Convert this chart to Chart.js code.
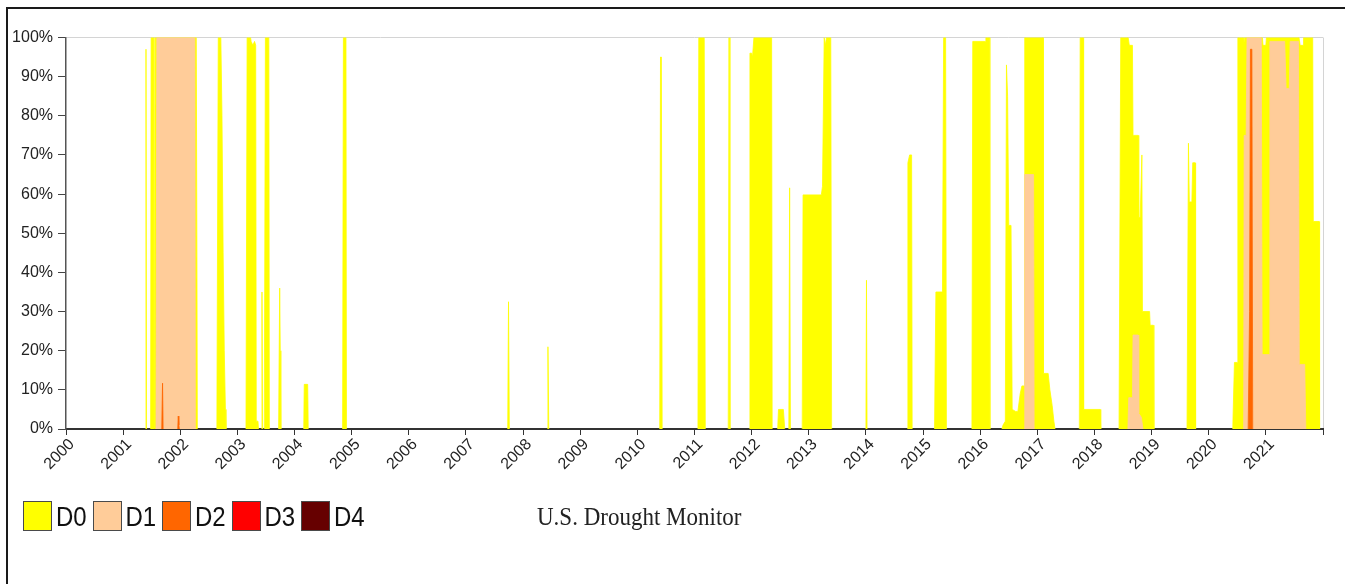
<!DOCTYPE html>
<html lang="en"><head><meta charset="utf-8"><title>U.S. Drought Monitor</title>
<script src="https://cdn.jsdelivr.net/npm/chart.js@4.4.1/dist/chart.umd.min.js"></script>
<style>
  * { box-sizing: border-box; }
  html, body { margin: 0; width: 1345px; height: 584px; overflow: hidden; background: #fff; }
  .frame { position: absolute; left: 6px; top: 7px; width: 1400px; height: 640px;
           border-left: 2px solid #1a1a1a; border-top: 2px solid #1a1a1a; }
  canvas { position: absolute; left: 0; top: 0; }
  .legend { position: absolute; left: 0; top: 0; }
  .item { position: absolute; top: 501px; height: 30px; }
  .item i { position: absolute; left: 0; top: 0; width: 29px; height: 30px; border: 1.5px solid #4a4a4a; }
  .item span { position: absolute; left: 33px; top: 1px; font: 24px "Liberation Sans", Arial, sans-serif;
               color: #111; line-height: 30px; transform: scaleY(1.12); transform-origin: left center; }
  .title { position: absolute; left: 537px; top: 502px; font: 23px "Liberation Serif", "Times New Roman", serif;
           color: #222; line-height: 30px; transform: scaleY(1.1); transform-origin: left center; }
</style></head>
<body>
<div class="frame"></div>
<canvas id="c" width="1345" height="584"></canvas>
<div class="legend" id="legend"></div>
<div class="title">U.S. Drought Monitor</div>
<script>
// Percent of area in each category, [decimal year, %] at the weeks where the
// value changes. D0 is cumulative (D0–D4), D1 is D1–D4, and so on.
const D0 = [
  [2000.00, 0],
  [2001.39, 0], [2001.40, 97], [2001.41, 0],
  [2001.48, 0], [2001.49, 100], [2001.53, 100], [2001.54, 0],
  [2001.55, 0], [2001.56, 100], [2002.28, 100], [2002.30, 0],
  [2002.64, 0], [2002.665, 100], [2002.71, 100], [2002.73, 80], [2002.75, 45], [2002.77, 20], [2002.79, 5], [2002.80, 0],
  [2003.15, 0], [2003.17, 100], [2003.23, 100], [2003.24, 99], [2003.27, 98], [2003.30, 99], [2003.32, 98], [2003.33, 2], [2003.36, 2], [2003.37, 0],
  [2003.42, 0], [2003.43, 35], [2003.44, 0],
  [2003.47, 0], [2003.49, 100], [2003.55, 100], [2003.56, 0],
  [2003.72, 0], [2003.74, 36], [2003.75, 20], [2003.76, 0],
  [2004.16, 0], [2004.17, 11.4], [2004.23, 11.4], [2004.24, 0],
  [2004.84, 0], [2004.855, 100], [2004.90, 100], [2004.91, 0],
  [2007.73, 0], [2007.745, 32.5], [2007.76, 0],
  [2008.42, 0], [2008.435, 21], [2008.45, 0],
  [2010.39, 0], [2010.405, 95], [2010.42, 95], [2010.435, 0],
  [2011.06, 0], [2011.075, 100], [2011.17, 100], [2011.19, 0],
  [2011.59, 0], [2011.605, 100], [2011.62, 0],
  [2011.96, 0], [2011.97, 96], [2012.00, 96], [2012.015, 95], [2012.04, 100], [2012.35, 100], [2012.36, 0],
  [2012.455, 0], [2012.47, 5], [2012.555, 5], [2012.58, 0],
  [2012.65, 0], [2012.665, 61.6], [2012.68, 0],
  [2012.885, 0], [2012.90, 59.8], [2013.22, 59.8], [2013.24, 62], [2013.27, 100], [2013.29, 98], [2013.31, 100], [2013.385, 100], [2013.40, 0],
  [2014.00, 0], [2014.01, 38], [2014.02, 0],
  [2014.72, 0], [2014.735, 68], [2014.765, 70], [2014.80, 70], [2014.81, 0],
  [2015.20, 0], [2015.225, 35], [2015.34, 35], [2015.36, 100], [2015.395, 100], [2015.41, 0],
  [2015.855, 0], [2015.87, 99], [2016.09, 99], [2016.10, 100], [2016.16, 100], [2016.17, 0],
  [2016.38, 0], [2016.40, 1], [2016.44, 2], [2016.46, 93], [2016.48, 85], [2016.50, 52], [2016.54, 52], [2016.56, 5],
  [2016.62, 4.5], [2016.66, 4.5], [2016.70, 9], [2016.73, 11], [2016.77, 11], [2016.78, 100],
  [2017.10, 100], [2017.105, 14.2], [2017.19, 14.2], [2017.22, 10], [2017.26, 6], [2017.29, 2], [2017.31, 0],
  [2017.735, 0], [2017.75, 100], [2017.80, 100], [2017.81, 5], [2018.10, 5], [2018.11, 0],
  [2018.43, 0], [2018.46, 100], [2018.59, 100], [2018.61, 98], [2018.665, 98], [2018.675, 75], [2018.765, 75],
  [2018.775, 54], [2018.80, 54], [2018.83, 70], [2018.84, 30], [2018.965, 30], [2018.975, 26.5], [2019.03, 26.5], [2019.04, 0],
  [2019.62, 0], [2019.645, 73], [2019.66, 58], [2019.705, 58], [2019.72, 68], [2019.76, 68], [2019.77, 0],
  [2020.42, 0], [2020.45, 17], [2020.50, 17], [2020.51, 100], [2020.60, 100], [2020.61, 98], [2020.63, 100],
  [2020.94, 100], [2020.95, 98], [2021.00, 98], [2021.01, 100], [2021.58, 100], [2021.60, 98], [2021.65, 98], [2021.66, 100],
  [2021.82, 100], [2021.83, 53], [2021.93, 53], [2021.94, 0],
];
const D1 = [
  [2000.00, 0],
  [2001.575, 0], [2001.59, 100], [2002.255, 100], [2002.265, 0],
  [2016.77, 0], [2016.78, 65], [2016.935, 65], [2016.945, 0],
  [2018.585, 0], [2018.60, 8], [2018.665, 8], [2018.675, 24], [2018.765, 24], [2018.775, 4], [2018.82, 3], [2018.85, 0],
  [2020.61, 0], [2020.62, 75], [2020.655, 75], [2020.67, 100], [2020.92, 100], [2020.935, 19], [2021.06, 19],
  [2021.07, 99], [2021.33, 99], [2021.355, 87], [2021.41, 87], [2021.425, 99], [2021.57, 99], [2021.585, 16.5], [2021.68, 16.5], [2021.70, 0],
];
const D2 = [
  [2000.00, 0],
  [2001.675, 0], [2001.69, 11.7], [2001.70, 0],
  [2001.955, 0], [2001.965, 3.3], [2001.975, 1], [2001.985, 0],
  [2020.69, 0], [2020.715, 30], [2020.73, 97], [2020.755, 97], [2020.77, 0],
];
const D3 = [];
const D4 = [];

const CATEGORIES = ['D0', 'D1', 'D2', 'D3', 'D4'];
const COLORS = ['#ffff00', '#ffcc99', '#ff6600', '#ff0000', '#660000'];
const YEAR_TICKS = [2000, 2001, 2002, 2003, 2004, 2005, 2006, 2007, 2008, 2009, 2010,
  2011, 2012, 2013, 2014, 2015, 2016, 2017, 2018, 2019, 2020, 2021, 2022];
const YEAR_LABELS = ['2000', '2001', '2002', '2003', '2004', '2005', '2006', '2007', '2008', '2009', '2010',
  '2011', '2012', '2013', '2014', '2015', '2016', '2017', '2018', '2019', '2020', '2021', ''];
const PCT_TICKS = [0, 10, 20, 30, 40, 50, 60, 70, 80, 90, 100];

const SERIES = [D0, D1, D2, D3, D4];
const CLEAR = 'rgba(0,0,0,0)';

// Legend row (boxes + labels), laid out as on the source page.
document.getElementById('legend').innerHTML = CATEGORIES.map((c, i) =>
  `<div class="item" style="left:${23 + i * 69.5}px"><i style="background:${COLORS[i]}"></i><span>${c}</span></div>`
).join('');

new Chart(document.getElementById('c'), {
  type: 'line',
  data: {
    datasets: SERIES.map((s, i) => ({
      label: CATEGORIES[i],
      data: s.map(([x, y]) => ({ x, y })),
      backgroundColor: COLORS[i],
      borderColor: COLORS[i],
      borderWidth: 0.8,
      // no outline along the baseline between drought episodes
      segment: { borderColor: c => (c.p0.parsed.y === 0 && c.p1.parsed.y === 0 ? CLEAR : COLORS[i]) },
      pointRadius: 0,
      tension: 0,
      fill: 'origin',
      order: SERIES.length - i, // D0 painted first, worse categories on top
    })),
  },
  options: {
    responsive: false, animation: false, events: [],
    layout: { padding: { left: 0, top: 37.5, right: 22, bottom: 0 } },
    plugins: { legend: { display: false }, tooltip: { enabled: false } },
    scales: {
      x: {
        type: 'linear', min: 2000, max: 2022,
        afterBuildTicks: s => { s.ticks = YEAR_TICKS.map(v => ({ value: v })); },
        afterFit: s => { s.height = 155; },
        grid: {
          color: c => (c.tick && c.tick.value === 2022 ? '#d4d4d4' : CLEAR),
          tickColor: '#333', tickLength: 6, lineWidth: 1,
        },
        border: { color: '#333', width: 2 },
        ticks: {
          autoSkip: false, minRotation: 45, maxRotation: 45, padding: 0, labelOffset: 6,
          color: '#222', font: { family: '"Liberation Sans", Arial, sans-serif', size: 16 },
          callback: v => YEAR_LABELS[YEAR_TICKS.indexOf(v)] ?? '',
        },
      },
      y: {
        min: 0, max: 100,
        afterBuildTicks: s => { s.ticks = PCT_TICKS.map(v => ({ value: v })); },
        afterFit: s => { s.width = 66; },
        grid: {
          color: c => (c.tick && c.tick.value === 100 ? '#d4d4d4' : CLEAR),
          tickColor: '#444', tickLength: 8, lineWidth: 1,
        },
        border: { color: '#555', width: 1.5 },
        ticks: {
          padding: 5, color: '#222',
          font: { family: '"Liberation Sans", Arial, sans-serif', size: 16 },
          callback: v => v + '%',
        },
      },
    },
  },
});
</script>
</body></html>
